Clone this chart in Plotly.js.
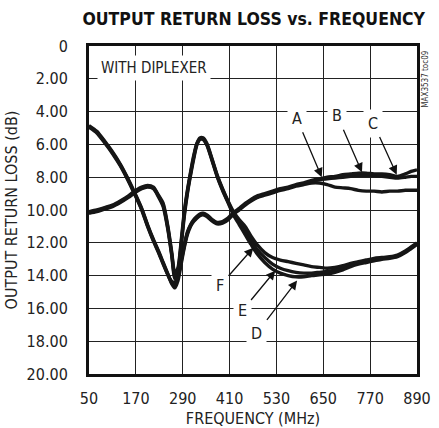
<!DOCTYPE html>
<html>
<head>
<meta charset="utf-8">
<script src="https://cdn.plot.ly/plotly-3.0.1.min.js"></script>
<style>html,body{margin:0;padding:0;background:#fff;}#chart{width:439px;height:428px;}</style>
</head>
<body>
<div id="chart"></div>
<script>
// Frequency (MHz)
const freq = [50,70,90,110,130,150,170,185,200,215,228,240,252,262,270,278,286,294,302,310,318,326,334,342,352,364,378,392,406,420,435,450,465,480,500,520,540,560,580,600,620,640,660,680,700,720,740,760,780,800,820,840,860,875,890];
// Output return loss (dB), upper group A,B,C
const lossA = [4.85,5.2,5.8,6.45,7.2,8.1,9.1,9.9,10.9,11.8,12.5,13.2,13.9,14.5,14.75,14.3,13.3,12.3,11.5,11.0,10.7,10.5,10.35,10.3,10.4,10.65,10.85,10.8,10.6,10.25,10.0,9.7,9.45,9.25,9.1,8.95,8.8,8.7,8.55,8.45,8.35,8.35,8.45,8.6,8.65,8.7,8.8,8.85,8.85,8.9,8.85,8.85,8.8,8.8,8.8];
const lossB = [4.9,5.25,5.85,6.5,7.25,8.15,9.15,9.95,10.95,11.85,12.55,13.25,13.95,14.45,14.55,14.1,13.15,12.2,11.4,10.95,10.65,10.45,10.3,10.25,10.35,10.6,10.8,10.75,10.55,10.2,9.95,9.65,9.4,9.2,9.05,8.9,8.75,8.65,8.5,8.4,8.25,8.15,8.1,8.05,8.0,7.95,7.9,7.9,7.9,7.95,8.0,8.05,8.0,7.95,7.95];
const lossC = [4.95,5.3,5.9,6.55,7.3,8.2,9.2,10.0,11.0,11.9,12.6,13.3,13.95,14.35,14.4,13.9,13.0,12.1,11.35,10.9,10.6,10.4,10.25,10.2,10.3,10.55,10.75,10.7,10.5,10.15,9.9,9.6,9.35,9.15,9.0,8.85,8.7,8.6,8.45,8.35,8.2,8.1,8.0,7.95,7.85,7.8,7.75,7.75,7.8,7.8,7.85,7.95,7.8,7.65,7.55];
// lower group D,E,F
const lossD = [10.2,10.1,9.95,9.8,9.55,9.25,8.9,8.7,8.6,8.7,9.2,9.8,11.2,12.8,14.2,13.8,12.2,10.4,9.0,7.9,6.9,6.05,5.7,5.7,6.05,6.9,7.95,8.8,9.55,10.3,10.9,11.5,12.1,12.65,13.2,13.6,13.85,14.0,14.08,14.07,14.0,13.95,13.9,13.8,13.65,13.45,13.3,13.2,13.1,13.0,12.95,12.85,12.6,12.35,12.1];
const lossE = [10.15,10.05,9.9,9.75,9.5,9.2,8.85,8.65,8.55,8.65,9.15,9.7,11.1,12.7,14.05,13.65,12.05,10.25,8.9,7.8,6.8,6.0,5.65,5.65,6.0,6.85,7.9,8.75,9.5,10.2,10.75,11.25,11.85,12.4,12.9,13.3,13.55,13.7,13.8,13.85,13.85,13.8,13.75,13.65,13.5,13.35,13.2,13.1,13.0,12.95,12.9,12.8,12.55,12.3,12.05];
const lossF = [10.1,10.0,9.85,9.7,9.45,9.15,8.8,8.6,8.5,8.6,9.1,9.6,11.0,12.6,13.9,13.5,11.9,10.1,8.8,7.7,6.7,5.95,5.6,5.6,5.95,6.8,7.85,8.7,9.45,10.1,10.6,11.0,11.6,12.1,12.6,12.9,13.05,13.15,13.25,13.35,13.45,13.5,13.55,13.5,13.4,13.25,13.15,13.05,12.95,12.9,12.85,12.75,12.5,12.25,12.0];

const seriesNames = ['A','B','C','D','E','F'];
const seriesData = [lossA,lossB,lossC,lossD,lossE,lossF];
const xTicks = [50,170,290,410,530,650,770,890];
const yTicks = [0,2,4,6,8,10,12,14,16,18,20];
const yTickText = ['0','2.00','4.00','6.00','8.00','10.00','12.00','14.00','16.00','18.00','20.00'];

const FONT = 'DejaVu Sans Condensed, Liberation Sans Narrow, sans-serif';

const traces = seriesData.map((ys, i) => ({
  x: freq, y: ys, name: seriesNames[i], type: 'scatter', mode: 'lines',
  line: {color: '#161616', width: 3.4, shape: 'spline', smoothing: 0.7},
  hoverinfo: 'skip'
}));

function label(text, x, y, ax, ay) {
  return {text: text, x: x, y: y, ax: ax, ay: ay, xref: 'x', yref: 'y', axref: 'x', ayref: 'y',
    showarrow: true, arrowhead: 2, arrowsize: 1.4, arrowwidth: 1.3, arrowcolor: '#111',
    bgcolor: '#fff', borderpad: 4, standoff: 0,
    font: {family: FONT, size: 16, color: '#222'}};
}

const layout = {
  width: 439, height: 428,
  margin: {l: 89, r: 22, t: 46, b: 54, autoexpand: false},
  paper_bgcolor: '#fff', plot_bgcolor: '#fff',
  showlegend: false,
  font: {family: FONT, color: '#222'},
  title: {text: '<b>OUTPUT RETURN LOSS vs. FREQUENCY</b>', x: 0.578, xanchor: 'center', y: 0.955, yanchor: 'middle',
    font: {family: FONT, size: 17.5, color: '#111'}},
  xaxis: {range: [50, 890], tickvals: xTicks, ticktext: xTicks.map(String), ticks: '',
    showgrid: true, gridcolor: '#222', gridwidth: 1, zeroline: false,
    showline: true, linecolor: '#111', linewidth: 3, mirror: true,
    ticklabelstandoff: 8, tickfont: {family: FONT, size: 16, color: '#222'},
    title: {text: 'FREQUENCY (MHz)', standoff: 12, font: {family: FONT, size: 16, color: '#222'}}},
  yaxis: {range: [20, 0], tickvals: yTicks, ticktext: yTickText, ticks: '',
    showgrid: true, gridcolor: '#222', gridwidth: 1, zeroline: false,
    showline: true, linecolor: '#111', linewidth: 3, mirror: true,
    ticklabelstandoff: 15, tickfont: {family: FONT, size: 16, color: '#222'},
    title: {text: 'OUTPUT RETURN LOSS (dB)', standoff: 5, font: {family: FONT, size: 16, color: '#222'}}},
  annotations: [
    {text: 'WITH DIPLEXER', x: 70, y: 1.35, xref: 'x', yref: 'y', xanchor: 'left', yanchor: 'middle', showarrow: false,
      bgcolor: '#fff', borderpad: 3, font: {family: FONT, size: 15, color: '#222'}},
    {text: 'MAX3537 toc09', x: 1.027, y: 0.9, xref: 'paper', yref: 'paper', textangle: -90, showarrow: false,
      xanchor: 'center', yanchor: 'middle', font: {family: FONT, size: 8, color: '#333'}},
    label('A', 646, 8.0, 582, 4.4),
    label('B', 749, 7.7, 686, 4.25),
    label('C', 838, 7.85, 778, 4.7),
    label('F', 471, 12.3, 386, 14.6),
    label('E', 527, 13.7, 442, 16.15),
    label('D', 583, 14.3, 480, 17.5)
  ]
};

Plotly.newPlot('chart', traces, layout, {staticPlot: true, displayModeBar: false});
</script>
</body>
</html>
